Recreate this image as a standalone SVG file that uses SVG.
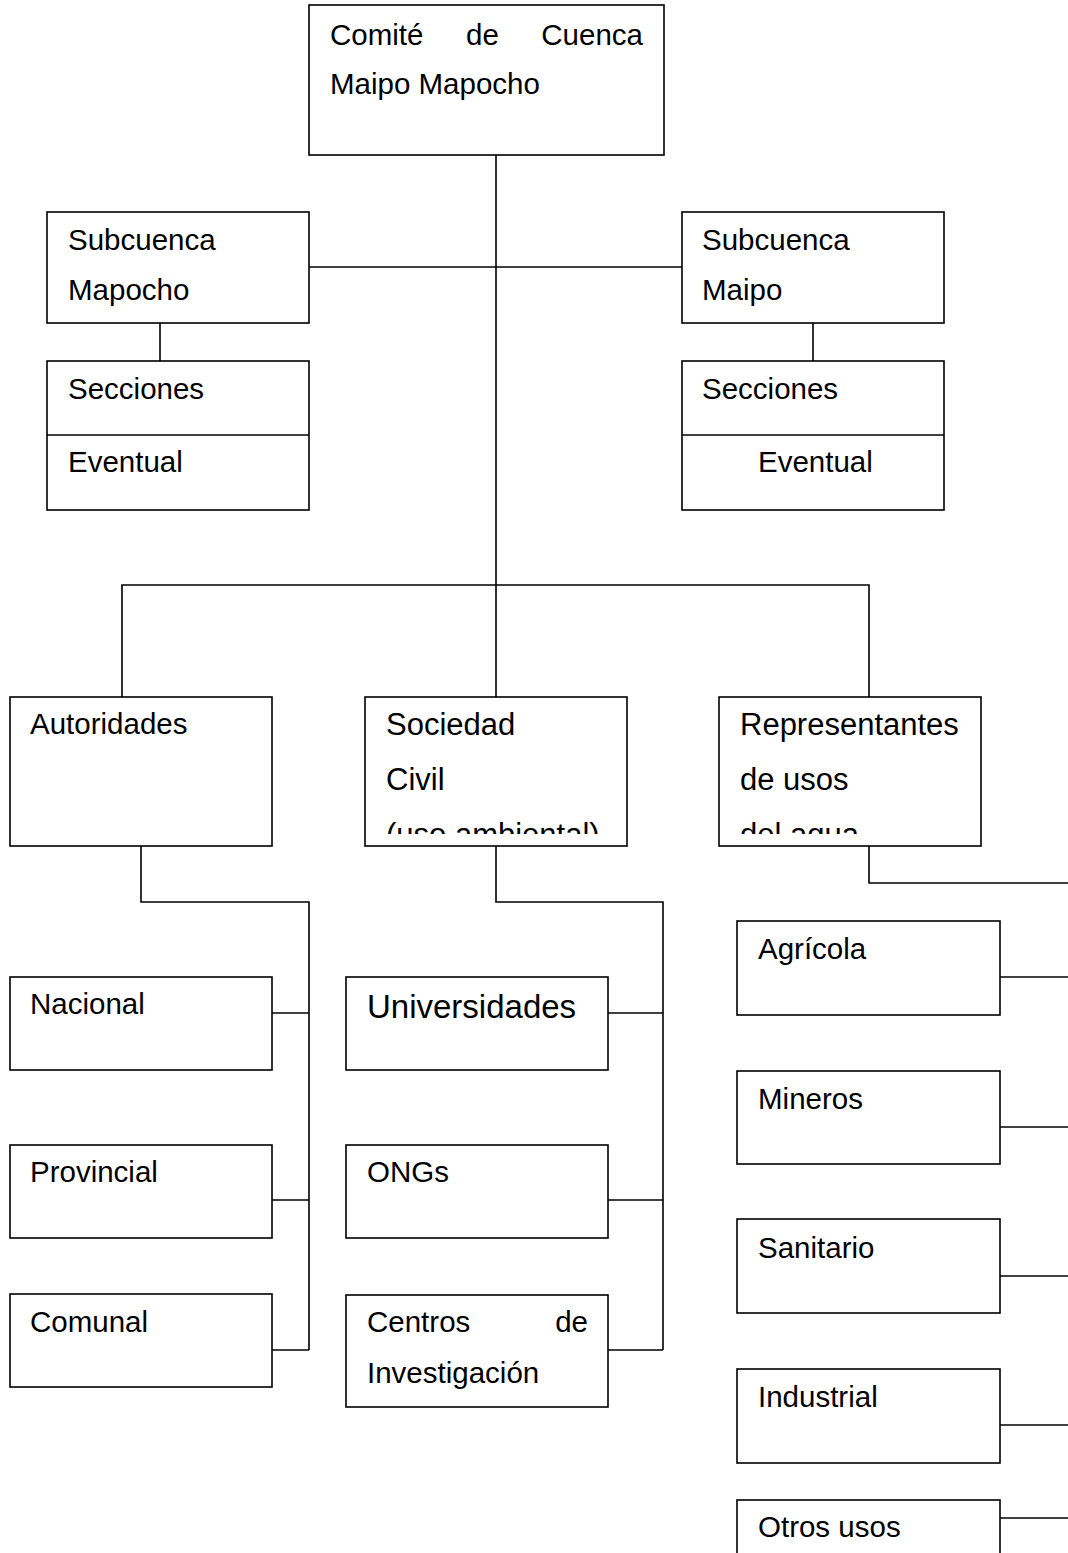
<svg xmlns="http://www.w3.org/2000/svg" width="1068" height="1553" viewBox="0 0 1068 1553">
  <style>
    .box { fill: #fff; stroke: #000; stroke-width: 1.6; }
    .conn { fill: none; stroke: #000; stroke-width: 1.6; }
    .t { font-family: "Liberation Sans", Arial, sans-serif; font-size: 29.5px; fill: #000; }
    .mid { font-size: 31px; }
    .big { font-size: 33px; }
  </style>
  <defs>
    <clipPath id="clipSoc"><rect x="366" y="698" width="260" height="136"/></clipPath>
    <clipPath id="clipRep"><rect x="720" y="698" width="260" height="136"/></clipPath>
  </defs>
  <rect width="1068" height="1553" fill="#fff"/>

  <!-- connectors -->
  <g id="connectors">
    <path class="conn" d="M496 155 V585"/>
    <path class="conn" d="M309 267 H682"/>
    <path class="conn" d="M160 323 V361"/>
    <path class="conn" d="M813 323 V361"/>
    <path class="conn" d="M122 698 V585 H869 V698"/>
    <path class="conn" d="M496 585 V698"/>
    <!-- authorities branch -->
    <path class="conn" d="M141 846 V902 H309 V1350"/>
    <path class="conn" d="M272 1013 H309"/>
    <path class="conn" d="M272 1200 H309"/>
    <path class="conn" d="M272 1350 H309"/>
    <!-- civil society branch -->
    <path class="conn" d="M496 846 V902 H663 V1350"/>
    <path class="conn" d="M608 1013 H663"/>
    <path class="conn" d="M608 1200 H663"/>
    <path class="conn" d="M608 1350 H663"/>
    <!-- water uses branch -->
    <path class="conn" d="M869 846 V883 H1068"/>
    <path class="conn" d="M1000 977 H1068"/>
    <path class="conn" d="M1000 1127 H1068"/>
    <path class="conn" d="M1000 1276 H1068"/>
    <path class="conn" d="M1000 1425 H1068"/>
    <path class="conn" d="M1000 1518 H1068"/>
  </g>

  <g id="comite">
    <rect class="box" x="309" y="5" width="355" height="150"/>
    <text class="t" y="45"><tspan x="330">Comité</tspan><tspan x="466">de</tspan><tspan x="643" text-anchor="end">Cuenca</tspan></text>
    <text class="t" x="330" y="94">Maipo Mapocho</text>
  </g>

  <g id="subcuenca-mapocho">
    <rect class="box" x="47" y="212" width="262" height="111"/>
    <text class="t" x="68" y="250">Subcuenca</text>
    <text class="t" x="68" y="300">Mapocho</text>
  </g>

  <g id="secciones-mapocho">
    <rect class="box" x="47" y="361" width="262" height="149"/>
    <line class="conn" x1="47" y1="435" x2="309" y2="435"/>
    <text class="t" x="68" y="399">Secciones</text>
    <text class="t" x="68" y="472">Eventual</text>
  </g>

  <g id="subcuenca-maipo">
    <rect class="box" x="682" y="212" width="262" height="111"/>
    <text class="t" x="702" y="250">Subcuenca</text>
    <text class="t" x="702" y="300">Maipo</text>
  </g>

  <g id="secciones-maipo">
    <rect class="box" x="682" y="361" width="262" height="149"/>
    <line class="conn" x1="682" y1="435" x2="944" y2="435"/>
    <text class="t" x="702" y="399">Secciones</text>
    <text class="t" x="758" y="472">Eventual</text>
  </g>

  <g id="autoridades">
    <rect class="box" x="10" y="697" width="262" height="149"/>
    <text class="t" x="30" y="734">Autoridades</text>
  </g>

  <g id="sociedad-civil">
    <rect class="box" x="365" y="697" width="262" height="149"/>
    <g clip-path="url(#clipSoc)">
      <text class="t mid" x="386" y="735">Sociedad</text>
      <text class="t mid" x="386" y="790">Civil</text>
      <text class="t mid" x="386" y="845">(uso ambiental)</text>
    </g>
  </g>

  <g id="representantes">
    <rect class="box" x="719" y="697" width="262" height="149"/>
    <g clip-path="url(#clipRep)">
      <text class="t mid" x="740" y="735">Representantes</text>
      <text class="t mid" x="740" y="790">de usos</text>
      <text class="t mid" x="740" y="845">del agua</text>
    </g>
  </g>

  <g id="nacional">
    <rect class="box" x="10" y="977" width="262" height="93"/>
    <text class="t" x="30" y="1014">Nacional</text>
  </g>
  <g id="provincial">
    <rect class="box" x="10" y="1145" width="262" height="93"/>
    <text class="t" x="30" y="1182">Provincial</text>
  </g>
  <g id="comunal">
    <rect class="box" x="10" y="1294" width="262" height="93"/>
    <text class="t" x="30" y="1332">Comunal</text>
  </g>

  <g id="universidades">
    <rect class="box" x="346" y="977" width="262" height="93"/>
    <text class="t big" x="367" y="1018">Universidades</text>
  </g>
  <g id="ongs">
    <rect class="box" x="346" y="1145" width="262" height="93"/>
    <text class="t" x="367" y="1182">ONGs</text>
  </g>
  <g id="centros">
    <rect class="box" x="346" y="1295" width="262" height="112"/>
    <text class="t" y="1332"><tspan x="367">Centros</tspan><tspan x="588" text-anchor="end">de</tspan></text>
    <text class="t" x="367" y="1383">Investigación</text>
  </g>

  <g id="agricola">
    <rect class="box" x="737" y="921" width="263" height="94"/>
    <text class="t" x="758" y="959">Agrícola</text>
  </g>
  <g id="mineros">
    <rect class="box" x="737" y="1071" width="263" height="93"/>
    <text class="t" x="758" y="1109">Mineros</text>
  </g>
  <g id="sanitario">
    <rect class="box" x="737" y="1219" width="263" height="94"/>
    <text class="t" x="758" y="1258">Sanitario</text>
  </g>
  <g id="industrial">
    <rect class="box" x="737" y="1369" width="263" height="94"/>
    <text class="t" x="758" y="1407">Industrial</text>
  </g>
  <g id="otros-usos">
    <rect class="box" x="737" y="1500" width="263" height="80"/>
    <text class="t" x="758" y="1537">Otros usos</text>
  </g>
</svg>
